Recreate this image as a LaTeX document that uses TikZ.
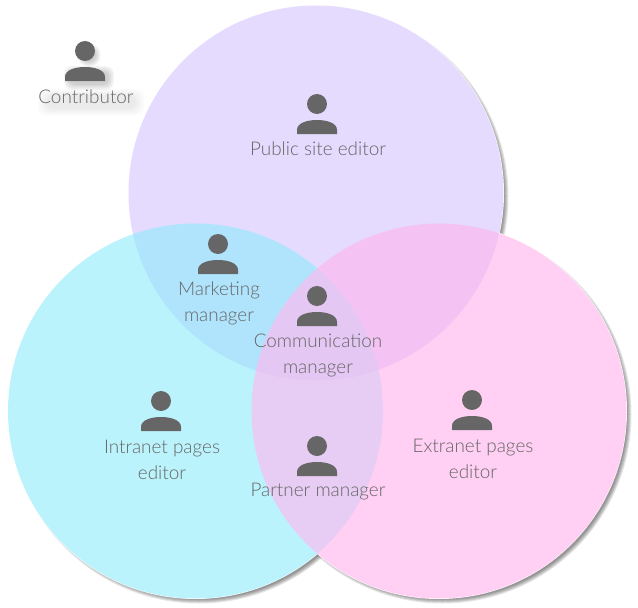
\documentclass[tikz,border=0pt]{standalone}
\usepackage{fontspec}
\setmainfont{Lato}[UprightFont=* Light]
\definecolor{roleviolet}{HTML}{E4DBFF}
\definecolor{rolecyan}{RGB}{142,235,252}
\definecolor{rolepink}{RGB}{255,184,238}
\definecolor{icongray}{HTML}{666666}
\definecolor{labelgray}{HTML}{666666}
\tikzset{
	role/.style={font=\fontsize{18.9}{26}\selectfont, text=labelgray, align=center, inner sep=0pt},
	pics/person/.style={code={
		\fill[#1] (0,-30) circle (10);
		\fill[#1] (-20,0) -- (-20,-4) .. controls (-20,-11) and (-10,-14) .. (0,-14) .. controls (10,-14) and (20,-11) .. (20,-4) -- (20,0) -- cycle;
	}},
	pics/person/.default={icongray}
}
\begin{document}
\begin{tikzpicture}[x=1pt,y=-1pt]
	\useasboundingbox (0,0) rectangle (638,608);
	% soft shadows below the circles
	\foreach \c in {(316,193),(195.5,411),(439,411)}{
		\foreach \r in {0,1,2,3,4}{
			\fill[black, opacity=.10, shift={(3.5,3.5)}] \c circle (185+\r);
		}
	}
	\foreach \c in {(316,193),(195.5,411),(439,411)}{
		\fill[white] \c circle (188);
	}
	% the three circles
	\fill[roleviolet] (316,193) circle (187.5);
	\fill[rolecyan, fill opacity=.6] (195.5,411) circle (187.5);
	\fill[rolepink, fill opacity=.66] (439,411) circle (187.5);
	% contributor stands outside, with a shadow
	\foreach \r in {0,1,2,3,4}{
		\fill[black, opacity=.04, shift={(4,4)}] (85,51) circle (7+\r*1.2);
		\fill[black, opacity=.04, rounded corners=7] (69-\r*1.2,71-\r*1.2) rectangle (109+\r*1.2,85+\r*1.2);
		\fill[black, opacity=.016, rounded corners=8] (46-\r*2,95-\r*1.5) rectangle (136+\r*2,109+\r*1.5);
	}
	\pic at (85,81) {person};
	\node[role] (contributor) at (86,96.5) {Contributor};
	% people in the circles
	\pic at (317,134) {person};
	\node[role] (publicsite) at (318,149) {Public site editor};
	\pic at (218,274) {person};
	\node[role] (marketing) at (219,303.5) {Marketing\\manager};
	\pic at (317,326) {person};
	\node[role] (communication) at (318,355.5) {Communication\\manager};
	\pic at (161,431) {person};
	\node[role] (intranet) at (162,459.5) {Intranet pages\\editor};
	\pic at (472,430) {person};
	\node[role] (extranet) at (473,458.5) {Extranet pages\\editor};
	\pic at (317,476) {person};
	\node[role] (partner) at (318,492) {Partner manager};
\end{tikzpicture}
\end{document}
